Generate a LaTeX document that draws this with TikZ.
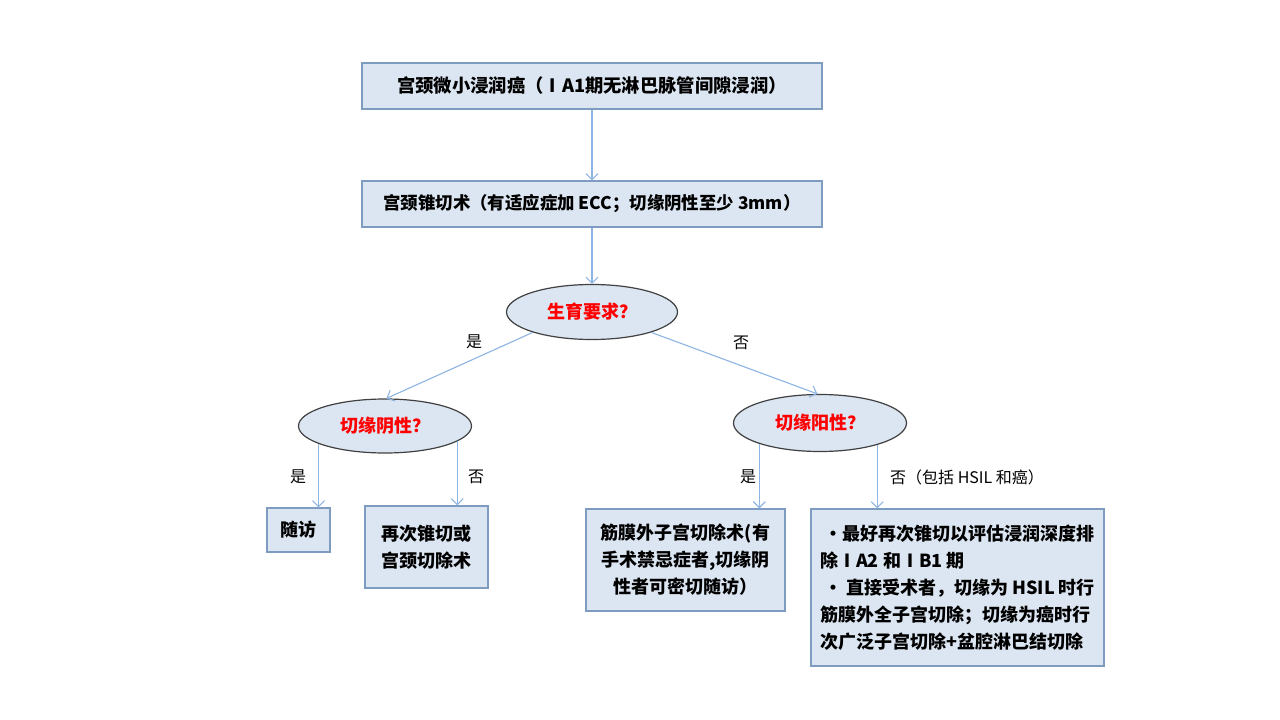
\documentclass[tikz,border=0pt]{standalone}
\usepackage{fontspec}
\setmainfont{Noto Sans CJK SC}
\usetikzlibrary{shapes.geometric,arrows.meta,calc}
\definecolor{boxfill}{HTML}{DCE6F2}
\definecolor{boxline}{HTML}{7E9CC0}
\definecolor{arrowc}{HTML}{8DB4E2}
\definecolor{ellline}{HTML}{404040}
\begin{document}
\begin{tikzpicture}[x=1pt,y=-1pt,
  box/.style={draw=boxline,fill=boxfill,line width=1.2pt,inner sep=0pt,font=\fontsize{18}{27}\selectfont\bfseries},
  ell/.style={ellipse,draw=ellline,fill=boxfill,line width=1.2pt,inner sep=0pt,text=red,font=\fontsize{18}{20}\selectfont\bfseries},
  arr/.style={draw=arrowc,line width=1.1pt,-{Straight Barb[length=6pt,width=12pt]}},
  lab/.style={font=\fontsize{16}{18}\selectfont,inner sep=0pt}]
\useasboundingbox (0,0) rectangle (1280,720);
\node[box,minimum width=460,minimum height=46,font=\fontsize{18.3}{20}\selectfont\bfseries] (b1) at (592,86) {宫颈微小浸润癌（ⅠA1期无淋巴脉管间隙浸润）};
\node[box,minimum width=460,minimum height=46,font=\fontsize{17.4}{20}\selectfont\bfseries] (b2) at (592,204) {宫颈锥切术（有适应症加 ECC；切缘阴性至少 3mm）};
\node[ell,minimum width=171,minimum height=55] (e1) at (592,312) {生育要求？};
\node[ell,minimum width=173,minimum height=54] (e2) at (385,426) {切缘阴性？};
\node[ell,minimum width=173,minimum height=57] (e3) at (820,423) {切缘阳性？};
\node[box,minimum width=63,minimum height=44] (s1) at (298.5,530) {随访};
\node[box,minimum width=123,minimum height=82,align=center] (s2) at (426.5,547) {再次锥切或\\宫颈切除术};
\node[box,minimum width=199,minimum height=102,align=center] (s3) at (685.5,560) {筋膜外子宫切除术(有\\手术禁忌症者,切缘阴\\性者可密切随访）};
\node[box,minimum width=293,minimum height=157,align=left] (s4) at (957.5,587.5) {\hspace{4pt}·最好再次锥切以评估浸润深度排\\除ⅠA2 和ⅠB1 期\\\hspace{4pt}· 直接受术者，切缘为 HSIL 时行\\筋膜外全子宫切除；切缘为癌时行\\次广泛子宫切除+盆腔淋巴结切除};
\draw[arr] (b1.south) -- (b2.north);
\draw[arr] (b2.south) -- (e1.north);
\draw[arr] (e1.199) -- (e2.87);
\draw[arr] (e1.341) -- (e3.95);
\draw[arr] (e2.195) -- (e2.195 |- s1.north);
\draw[arr] (e2.348) -- (e2.348 |- s2.north);
\draw[arr] (e3.199) -- (e3.199 |- s3.north);
\draw[arr] (e3.339) -- (e3.339 |- s4.north);
\node[lab] (l1) at (474,342) {是};
\node[lab] (l2) at (741,343) {否};
\node[lab] (l3) at (298,477) {是};
\node[lab] (l4) at (476,477) {否};
\node[lab] (l5) at (748,477) {是};
\node[lab,anchor=west] (l6) at (890,477) {否（包括 HSIL 和癌）};
\end{tikzpicture}
\end{document}
